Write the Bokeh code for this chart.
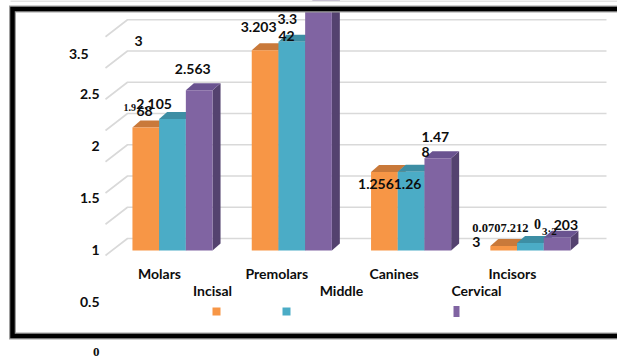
from bokeh.plotting import figure
from bokeh.models import Range1d
from bokeh.core.properties import value
from bokeh.embed import file_html
from bokeh.resources import INLINE

# --- data -------------------------------------------------------------
categories = ["Molars", "Premolars", "Canines", "Incisors"]
series_names = ["Incisal", "Middle", "Cervical"]
incisal = [1.968, 3.203, 1.256, 0.0703]
middle = [2.105, 3.342, 1.26, 0.121]
cervical = [2.563, 3.9, 1.478, 0.203]
grid_values = [0, 0.5, 1, 1.5, 2, 2.5, 3, 3.5]
tick_labels = ["0", "0.5", "1", "1.5", "2", "2.5", "3", "3.5"]

series_values = [incisal, middle, cervical]
front_colors = ["#F79646", "#4BACC6", "#8064A2"]
top_colors = ["#C9793A", "#3D8EA4", "#6A5390"]
side_colors = ["#B4692F", "#337B8E", "#54426F"]

# --- canvas geometry (pixels per data unit) ----------------------------
W, H = 617, 359
X0, XS = 172.0, 119.3      # first category centre, pixels per category
Y0, YU = 250.0, 62.5       # baseline, pixels per unit of value


def fx(px):
    return (px - X0) / XS


def fy(py):
    return (Y0 - py) / YU


BW = 26.7 / XS             # bar width
DX, DY = 8 / XS, 7 / YU    # bar depth
WALL = 12 / YU             # back wall sits behind the bars

p = figure(width=W, height=H, x_range=Range1d(fx(0), fx(W)),
           y_range=Range1d(fy(H), fy(0)), x_axis_type=None, y_axis_type=None,
           toolbar_location=None, output_backend="svg", min_border=0,
           outline_line_color=None, background_fill_color="white",
           border_fill_color="white")
p.grid.visible = False

# --- back wall grid lines with the receding side-wall strokes ----------
gx0, gx1 = [], []
for g in grid_values:
    gx0.append([fx(105), fx(127), fx(606)])
    gx1.append([g + WALL - 17 / YU, g + WALL, g + WALL])
p.multi_line(xs=gx0, ys=gx1, line_color="#D9D9D9", line_width=1.6)

# --- 3D bars ------------------------------------------------------------
for j, vals in enumerate(series_values):
    lefts = [i + (j - 1.5) * BW for i in range(len(categories))]
    rights = [l + BW for l in lefts]
    side_xs = [[r, r + DX, r + DX, r] for r in rights]
    side_ys = [[0, DY, v + DY, v] for v in vals]
    top_xs = [[l, r, r + DX, l + DX] for l, r in zip(lefts, rights)]
    top_ys = [[v, v, v + DY, v + DY] for v in vals]
    p.patches(xs=side_xs, ys=side_ys, fill_color=side_colors[j], line_color=None)
    p.patches(xs=top_xs, ys=top_ys, fill_color=top_colors[j], line_color=None)
    p.quad(left=lefts, right=rights, bottom=[0] * len(vals), top=vals,
           fill_color=front_colors[j], line_color=None)

# --- value labels (wrapped / overlapping as laid out on the slide) ------
# (text, category, series, dx px from bar left, dy px from bar top, size, font)
value_labels = [
    ("1.9", 0, 0, -9, -20, "10px", "Liberation Serif"),
    ("68", 0, 0, 4, -17, "14px", "Lato"),
    ("2.105", 0, 1, -23, -15, "14px", "Lato"),
    ("2.563", 0, 2, -11, -21, "14px", "Lato"),
    ("3.203", 1, 0, -11, -23, "14px", "Lato"),
    ("3.3", 1, 1, -1, -23, "14px", "Lato"),
    ("42", 1, 1, 0, -6, "14px", "Lato"),
    ("1.256", 2, 0, -13, 11.5, "14px", "Lato"),
    ("1.26", 2, 1, -4, 12, "14px", "Lato"),
    ("1.47", 2, 2, -3, -21, "14px", "Lato"),
    ("8", 2, 2, -3, -6, "14px", "Lato"),
    ("0.0707.212", 3, 0, -18, -18, "12.5px", "Liberation Serif"),
    ("3", 3, 0, -18, -4, "14px", "Lato"),
    ("0", 3, 1, 17, -19, "14px", "Liberation Serif"),
    ("3\u00b72", 3, 1, 25, -12, "11px", "Liberation Serif"),
    ("203", 3, 2, 10, -13, "14px", "Lato"),
]
for text, ci, sj, dxp, dyp, size, font in value_labels:
    left = ci + (sj - 1.5) * BW
    top = series_values[sj][ci]
    p.text(x=[left + dxp / XS], y=[top - dyp / YU], text=[text],
           text_font=value(font), text_font_style="bold", text_font_size=size,
           text_align="left", text_baseline="middle", text_color="#0D0D0D")

# --- category labels ------------------------------------------------------
cat_shift = [-13, -15, -17, -18]
p.text(x=[i + s / XS for i, s in enumerate(cat_shift)],
       y=[-23 / YU] * len(categories), text=categories,
       text_font=value("Lato"), text_font_style="bold", text_font_size="14px",
       text_align="center", text_baseline="middle", text_color="#0D0D0D")

# --- value axis labels ----------------------------------------------------
tick_right = [99, 99, 99, 99, 99, 99, 142, 88]
tick_mid = [351 - 104 * v for v in grid_values[:6]] + [40, 53]
tick_mid[1:6] = [353 - 104 * v for v in grid_values[1:6]]
p.text(x=[fx(x) for x in tick_right[1:]], y=[fy(y) for y in tick_mid[1:]],
       text=tick_labels[1:], text_font=value("Lato"), text_font_style="bold",
       text_font_size="14px", text_align="right", text_baseline="middle",
       text_color="#0D0D0D")
p.text(x=[fx(tick_right[0])], y=[fy(tick_mid[0])], text=tick_labels[:1],
       text_font=value("Liberation Serif"), text_font_style="bold",
       text_font_size="13px", text_align="right", text_baseline="middle",
       text_color="#0D0D0D")

# --- legend ---------------------------------------------------------------
legend_text_x = [212, 341, 476]
legend_box_x = [216, 286, 456]
legend_box_w = [8, 8, 6]
legend_box_h = [8, 8, 11]
p.text(x=[fx(x) for x in legend_text_x], y=[fy(290)] * 3, text=series_names,
       text_font=value("Lato"), text_font_style="bold", text_font_size="14px",
       text_align="center", text_baseline="middle", text_color="#0D0D0D")
p.rect(x=[fx(x) for x in legend_box_x], y=[fy(311)] * 3,
       width=legend_box_w, height=legend_box_h, width_units="screen",
       height_units="screen", fill_color=front_colors, line_color=None)

# --- slide frame ------------------------------------------------------------
p.quad(left=[fx(0)], right=[fx(W)], bottom=[fy(7)], top=[fy(0)],
       fill_color="white", line_color=None)
p.line(x=[fx(10), fx(W)], y=[fy(0.5), fy(0.5)], line_color="#C8C8C8", line_width=1)
frame_x = [fx(W), fx(12), fx(12), fx(W)]
frame_y = [fy(8.5), fy(8.5), fy(335.5), fy(335.5)]
p.line(x=frame_x, y=frame_y, line_color="#A0A0A0", line_width=7, line_join="miter")
p.line(x=frame_x, y=frame_y, line_color="black", line_width=4.5, line_join="miter")

open("out.html", "w").write(file_html(p, INLINE))
